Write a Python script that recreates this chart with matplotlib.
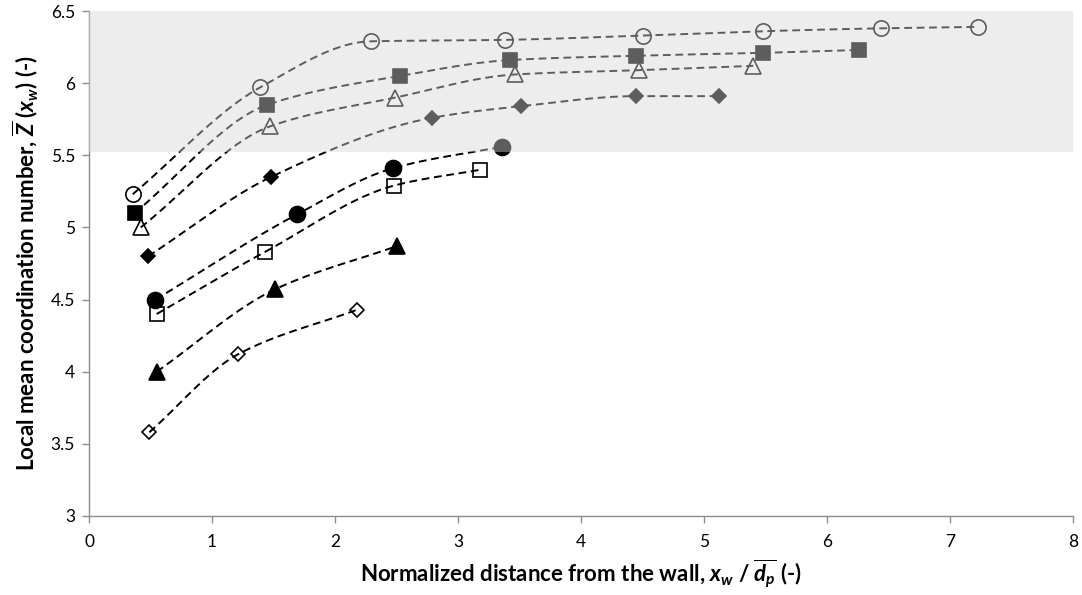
import numpy as np
import matplotlib.pyplot as plt

# normalized distance from wall (x) and local mean coordination number (y)
circ_open_x = [0.355, 1.39, 2.29, 3.38, 4.50, 5.48, 6.44, 7.23]
circ_open_y = [5.23, 5.97, 6.29, 6.30, 6.33, 6.36, 6.38, 6.39]
sq_fill_x = [0.37, 1.45, 2.53, 3.42, 4.45, 5.48, 6.26]
sq_fill_y = [5.10, 5.85, 6.05, 6.16, 6.19, 6.21, 6.23]
tri_open_x = [0.42, 1.47, 2.49, 3.46, 4.47, 5.40]
tri_open_y = [5.00, 5.70, 5.90, 6.06, 6.09, 6.12]
dia_fill_x = [0.48, 1.48, 2.79, 3.51, 4.45, 5.12]
dia_fill_y = [4.80, 5.35, 5.76, 5.84, 5.91, 5.91]
circ_fill_x = [0.54, 1.69, 2.47, 3.36]
circ_fill_y = [4.50, 5.09, 5.41, 5.56]
sq_open_x = [0.55, 1.43, 2.48, 3.18]
sq_open_y = [4.40, 4.83, 5.29, 5.40]
tri_fill_x = [0.55, 1.51, 2.50]
tri_fill_y = [4.00, 4.57, 4.87]
dia_open_x = [0.49, 1.21, 2.18]
dia_open_y = [3.58, 4.12, 4.43]

band_lo, band_hi = 5.52, 6.5
y_ticks = [3, 3.5, 4, 4.5, 5, 5.5, 6, 6.5]
x_ticks = [0, 1, 2, 3, 4, 5, 6, 7, 8]


def smooth(x, y, n=40):
    # monotone cubic (Fritsch-Carlson) curve through the points
    x = np.asarray(x, float)
    y = np.asarray(y, float)
    h = np.diff(x)
    d = np.diff(y) / h
    m = np.empty_like(y)
    m[0], m[-1] = d[0], d[-1]
    for k in range(1, len(x) - 1):
        if d[k - 1] * d[k] <= 0:
            m[k] = 0.0
        else:
            w1 = 2 * h[k] + h[k - 1]
            w2 = h[k] + 2 * h[k - 1]
            m[k] = (w1 + w2) / (w1 / d[k - 1] + w2 / d[k])
    xs, ys = [], []
    for k in range(len(x) - 1):
        t = np.linspace(0, 1, n)
        h00 = 2 * t ** 3 - 3 * t ** 2 + 1
        h10 = t ** 3 - 2 * t ** 2 + t
        h01 = -2 * t ** 3 + 3 * t ** 2
        h11 = t ** 3 - t ** 2
        xs.append(x[k] + t * h[k])
        ys.append(h00 * y[k] + h10 * h[k] * m[k] + h01 * y[k + 1] + h11 * h[k] * m[k + 1])
    return np.concatenate(xs), np.concatenate(ys)


plt.rcParams['font.family'] = ['Lato', 'DejaVu Sans']
plt.rcParams['mathtext.fontset'] = 'custom'
plt.rcParams['mathtext.rm'] = 'Lato:bold'
plt.rcParams['mathtext.it'] = 'Lato:bold:italic'
plt.rcParams['mathtext.bf'] = 'Lato:bold'

fig = plt.figure(figsize=(10.82, 5.95), dpi=100)
ax = fig.add_axes([0.0823, 0.1328, 0.9094, 0.8487])

series = [
    (circ_open_x, circ_open_y, 'o', 11, 'none'),
    (sq_fill_x, sq_fill_y, 's', 10.5, 'black'),
    (tri_open_x, tri_open_y, '^', 11, 'none'),
    (dia_fill_x, dia_fill_y, 'D', 7.5, 'black'),
    (circ_fill_x, circ_fill_y, 'o', 11.5, 'black'),
    (sq_open_x, sq_open_y, 's', 10.5, 'none'),
    (tri_fill_x, tri_fill_y, '^', 11, 'black'),
    (dia_open_x, dia_open_y, 'D', 7.5, 'none'),
]
for xs, ys, m, ms, fc in series:
    cx, cy = smooth(xs, ys)
    ax.plot(cx, cy, color='black', lw=1.4, ls=(0, (4, 2.4)), zorder=2)
    ax.plot(xs, ys, ls='none', marker=m, ms=ms, mfc=fc, mec='black',
            mew=1.2, zorder=3)

# translucent grey band drawn on top, greys out the upper series
ax.axhspan(band_lo, band_hi, color='#d6d6d6', alpha=0.44, lw=0, zorder=5)

ax.set_xlim(0, 8)
ax.set_ylim(3, 6.5)
ax.set_xticks(x_ticks)
ax.set_yticks(y_ticks)
ax.set_yticklabels([f'{v:g}' for v in y_ticks])
for s in ['top', 'right']:
    ax.spines[s].set_visible(False)
for s in ['left', 'bottom']:
    ax.spines[s].set_color('#8c8c8c')
    ax.spines[s].set_linewidth(1.0)
ax.tick_params(direction='out', length=5, width=1.0, color='#8c8c8c',
               labelsize=12.5, labelcolor='black')
ax.tick_params(axis='x', pad=8)
ax.tick_params(axis='y', pad=5)

ax.set_xlabel(r'Normalized distance from the wall, $x_w$ / $\overline{d_p}$ (-)',
              fontsize=16, fontweight='bold', labelpad=6)
ax.set_ylabel(r'Local mean coordination number, $\overline{Z}$ ($x_w$) (-)',
              fontsize=16, fontweight='bold', labelpad=8)

fig.savefig('out.png', dpi=100)
